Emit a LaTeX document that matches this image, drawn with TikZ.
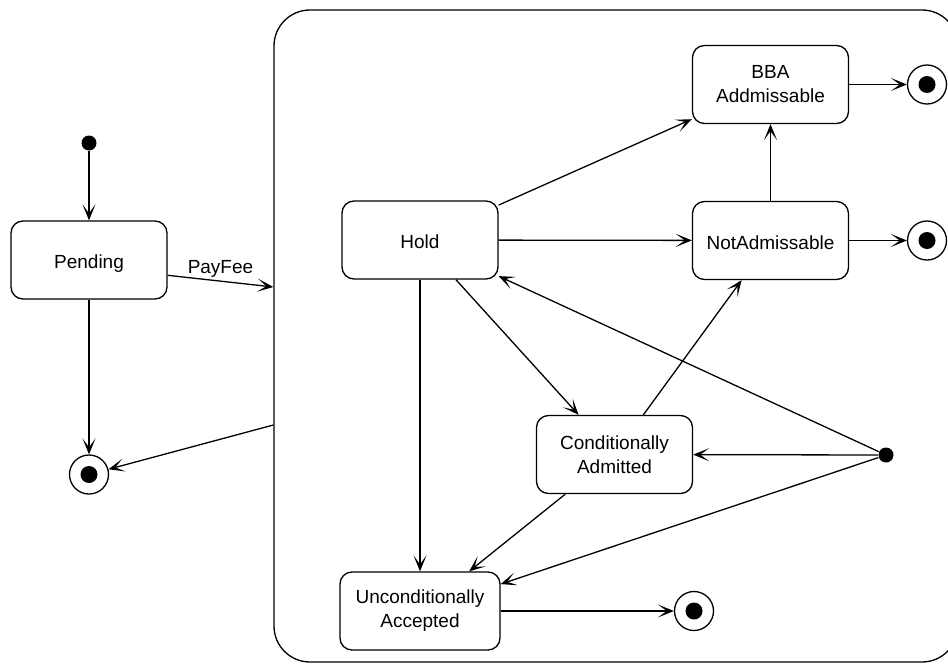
\documentclass[tikz,border=0pt]{standalone}
\usepackage{fontspec}
\setmainfont{Liberation Sans}
\usetikzlibrary{arrows.meta}

\begin{document}
\begin{tikzpicture}[
  x=1pt, y=-1pt,
  line width=1.3pt,
  every node/.style={font=\fontsize{19}{24}\selectfont},
  statebox/.style={draw, rounded corners=12pt, minimum width=156pt,
    minimum height=78pt, align=center, inner sep=2pt, fill=white},
  oneline/.style={text height=17.5pt, text depth=0pt},
  initdot/.style={circle, fill=black, minimum size=15pt, inner sep=0pt},
  finalstate/.style={circle, draw, fill=white, minimum size=39pt, inner sep=0pt,
    path picture={\fill[black] (path picture bounding box.center) circle (8.5pt);}},
  trans/.style={-{Stealth[length=16pt,width=13pt,inset=9pt]}},
]
\useasboundingbox (0,0) rectangle (948,664);
\clip (0,0) rectangle (948,664);

% composite state (runs past the right edge)
\node[draw, rounded corners=36pt, minimum width=684pt, minimum height=652pt,
      inner sep=0pt] (comp) at (616,336) {};
\path (comp.west) ++(0,-49) coordinate (payin);
\path (comp.west) ++(0,89) coordinate (compout);

% outer states
\node[initdot] (init) at (89,143) {};
\node[statebox, oneline] (pend) at (89,260) {Pending};
\node[finalstate] (finL) at (89,474.5) {};

% inner states
\node[statebox, oneline] (hold) at (420,240) {Hold};
\node[statebox] (bba) at (770.5,84.5) {BBA\\Addmissable};
\node[statebox, oneline] (notadm) at (770.5,240.5) {NotAdmissable};
\node[statebox] (cond) at (614.5,454.5) {Conditionally\\Admitted};
\node[statebox, minimum width=160pt] (uncond) at (420,611) {Unconditionally\\Accepted};
\node[initdot] (dot) at (886,455) {};

\node[finalstate] (finB) at (927,84.5) {};
\node[finalstate] (finN) at (927,240.5) {};
\node[finalstate] (finU) at (694,611) {};

% transitions outside the composite state
\draw[trans] (init) -- (pend);
\draw[trans] (pend) -- (finL);
\draw[trans] (pend.-11) -- node[above] {PayFee} (payin);
\draw[trans] (compout) -- (finL);

% transitions inside the composite state
\draw[trans] (hold) -- (bba);
\draw[trans] (hold) -- (notadm);
\draw[trans] (hold) -- (cond);
\draw[trans] (hold) -- (uncond);
\draw[trans] (notadm) -- (bba);
\draw[trans] (cond) -- (notadm);
\draw[trans] (cond) -- (uncond);
\draw[trans] (dot) -- (hold);
\draw[trans] (dot) -- (cond);
\draw[trans] (dot) -- (uncond);
\draw[trans] (bba) -- (finB);
\draw[trans] (notadm) -- (finN);
\draw[trans] (uncond) -- (finU);
\end{tikzpicture}
\end{document}
